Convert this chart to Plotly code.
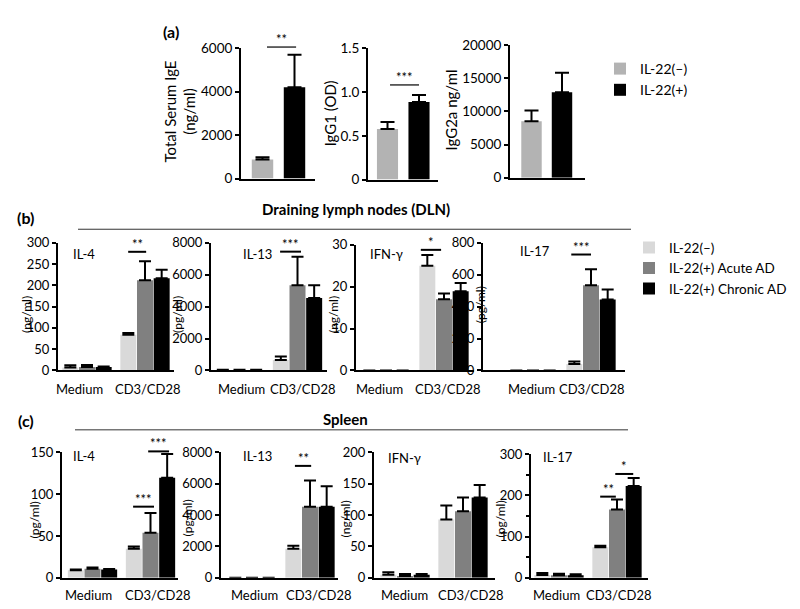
import plotly.graph_objects as go

W, H = 800, 609
FONT = "Lato, 'Open Sans', sans-serif"

# ---------------- Panel (a): serum immunoglobulins ----------------
a_groups = ['IL-22(–)', 'IL-22(+)']
ige_mean = [880, 4200]
ige_sem = [105, 1490]
igg1_mean = [0.578, 0.886]
igg1_sem = [0.078, 0.080]
igg2a_mean = [8500, 12900]
igg2a_sem = [1650, 2950]

# ---------------- Panels (b) DLN and (c) spleen ----------------
stim = ['Medium', 'CD3/CD28']
bc_groups = ['IL-22(–)', 'IL-22(+) Acute AD', 'IL-22(+) Chronic AD']

# each list: [IL-22(-), Acute, Chronic], each entry [Medium, CD3/CD28]
dln_il4_mean = [[7, 84], [8, 212], [8, 217]]
dln_il4_sem = [[5, 4], [5, 45], [1, 20]]
dln_il13_mean = [[30, 650], [30, 5350], [30, 4550]]
dln_il13_sem = [[15, 230], [15, 1780], [15, 800]]
dln_ifng_mean = [[0, 25.0], [0, 17.0], [0, 18.9]]
dln_ifng_sem = [[0, 2.6], [0, 1.4], [0, 2.0]]
dln_il17_mean = [[0, 40], [0, 535], [0, 445]]
dln_il17_sem = [[0, 16], [0, 100], [0, 62]]

spl_il4_mean = [[9, 34.6], [11, 53.8], [9.9, 119.6]]
spl_il4_sem = [[1, 2.7], [1.2, 23.5], [0.6, 28.2]]
spl_il13_mean = [[0, 1860], [0, 4530], [0, 4530]]
spl_il13_sem = [[0, 190], [0, 1670], [0, 1300]]
spl_ifng_mean = [[5, 93], [3, 106], [5, 128]]
spl_ifng_sem = [[4, 22], [3, 22], [1, 20]]
spl_il17_mean = [[7, 74], [6, 166], [6.5, 223]]
spl_il17_sem = [[5, 4], [4, 24], [2, 19]]

# significance marks: subplot, x from, x to (category units), y (data units), label
sig_marks = [
    ('a1', 0.14, 1.05, 6050, '**'),
    ('a2', 0.08, 1.00, 1.08, '***'),
    ('b1', 0.71, 1.02, 279, '**'),
    ('b2', 0.70, 1.06, 7450, '***'),
    ('b3', 0.60, 0.95, 28.8, '*'),
    ('b4', 0.66, 1.00, 727, '***'),
    ('c1', 0.70, 1.06, 85, '***'),
    ('c1', 0.96, 1.32, 151, '***'),
    ('c2', 0.74, 1.02, 7130, '**'),
    ('c4', 0.71, 0.98, 197, '**'),
    ('c4', 0.97, 1.28, 252, '*'),
]

A_COLORS = ['#b3b3b3', '#000000']
BC_COLORS = ['#d9d9d9', '#808080', '#000000']

# ---------------- layout geometry (pixels) ----------------
# key: left, right, top, bottom, centre of first category, category spacing
boxes = {
    'a1': (233, 307, 33, 167, 254.5, 32.0),
    'a2': (360, 430, 33, 168, 379.5, 31.5),
    'a3': (502, 577, 30, 166, 523.5, 30.5),
    'b1': (50, 166, 233, 364, 79, 58),
    'b2': (203, 319, 233, 364, 231.5, 58),
    'b3': (348, 466, 235, 364, 378, 58),
    'b4': (475, 617, 233, 364, 525, 58),
    'c1': (54, 170, 448, 577, 84.5, 58),
    'c2': (213, 330, 448, 577, 244, 58),
    'c3': (366, 487, 448, 577, 397, 58),
    'c4': (523, 640, 450, 577, 551, 58),
}
yaxes_cfg = {
    'a1': ([0, 6000], [0, 2000, 4000, 6000], ['0', '2000', '4000', '6000'], 13.5),
    'a2': ([0, 1.5], [0, 0.5, 1, 1.5], ['0', '0.5', '1.0', '1.5'], 13.5),
    'a3': ([0, 20000], [0, 5000, 10000, 15000, 20000], ['0', '5000', '10000', '15000', '20000'], 13.5),
    'b1': ([0, 300], [0, 50, 100, 150, 200, 250, 300], None, 13),
    'b2': ([0, 8000], [0, 2000, 4000, 6000, 8000], None, 13),
    'b3': ([0, 30], [0, 10, 20, 30], None, 13),
    'b4': ([0, 800], [0, 200, 400, 600, 800], None, 13),
    'c1': ([0, 150], [0, 50, 100, 150], None, 13),
    'c2': ([0, 8000], [0, 2000, 4000, 6000, 8000], None, 13),
    'c3': ([0, 200], [0, 50, 100, 150, 200], None, 13),
    'c4': ([0, 300], [0, 100, 200, 300], None, 13),
}
# pixel centres of the category labels (Medium, CD3/CD28) and their row
xlabel_pos = {
    'b1': (71, 139.5, 383), 'b2': (233, 295, 383), 'b3': (371, 440, 383), 'b4': (523.5, 583.5, 383),
    'c1': (80, 149.5, 595), 'c2': (246, 311, 595), 'c3': (396, 463, 595), 'c4': (548, 611, 595),
}
keys = list(boxes.keys())
axid = {k: ('' if i == 0 else str(i + 1)) for i, k in enumerate(keys)}


def px_x(x):
    return x / W


def px_y(y):
    return 1 - y / H


def ydata_to_paper(k, v):
    L, R, top, bot, c0, s = boxes[k]
    r0, r1 = yaxes_cfg[k][0]
    ypx = bot - (v - r0) / (r1 - r0) * (bot - top)
    return px_y(ypx)


fig = go.Figure()

# ---- panel (a) traces ----
a_sets = {'a1': (ige_mean, ige_sem), 'a2': (igg1_mean, igg1_sem), 'a3': (igg2a_mean, igg2a_sem)}
for k, (means, sems) in a_sets.items():
    for j, g in enumerate(a_groups):
        fig.add_trace(go.Bar(
            x=[g], y=[means[j]], name=g, marker=dict(color=A_COLORS[j], line=dict(width=0)),
            width=0.67, offsetgroup='a',
            error_y=dict(type='data', symmetric=False, array=[sems[j]], arrayminus=[0],
                         color='black', thickness=2, width=7),
            xaxis='x' + axid[k], yaxis='y' + axid[k],
            showlegend=(k == 'a1'), legend='legend',
        ))

# ---- panels (b),(c) traces ----
bc_sets = {
    'b1': (dln_il4_mean, dln_il4_sem), 'b2': (dln_il13_mean, dln_il13_sem),
    'b3': (dln_ifng_mean, dln_ifng_sem), 'b4': (dln_il17_mean, dln_il17_sem),
    'c1': (spl_il4_mean, spl_il4_sem), 'c2': (spl_il13_mean, spl_il13_sem),
    'c3': (spl_ifng_mean, spl_ifng_sem), 'c4': (spl_il17_mean, spl_il17_sem),
}
for k, (means, sems) in bc_sets.items():
    for j, g in enumerate(bc_groups):
        # no error bar where nothing was detected (mean and SEM both zero)
        err = [None if (m == 0 and e == 0) else e for m, e in zip(means[j], sems[j])]
        fig.add_trace(go.Bar(
            x=stim, y=means[j], name=g, marker=dict(color=BC_COLORS[j], line=dict(width=0)),
            error_y=dict(type='data', symmetric=False, array=err, arrayminus=[0, 0],
                         color='black', thickness=2, width=6),
            xaxis='x' + axid[k], yaxis='y' + axid[k],
            showlegend=(k == 'b1'), legend='legend2',
        ))

# ---- axes ----
lay = {}
for k in keys:
    L, R, top, bot, c0, s = boxes[k]
    yr, tv, tt, tfs = yaxes_cfg[k]
    xa = dict(domain=[px_x(L), px_x(R)], anchor='y' + axid[k], type='category',
              range=[(L - c0) / s, (R - c0) / s], showline=True, linecolor='black', linewidth=2,
              ticks='', showgrid=False, zeroline=False, fixedrange=True, showticklabels=False)
    if k.startswith('a'):
        xa.update(categoryorder='array', categoryarray=a_groups)
    else:
        xa.update(categoryorder='array', categoryarray=stim)
    ya = dict(domain=[px_y(bot), px_y(top)], anchor='x' + axid[k], range=yr, tickvals=tv,
              showline=True, linecolor='black', linewidth=2, ticks='outside', ticklen=4,
              tickwidth=1.5, tickcolor='black', showgrid=False, zeroline=False,
              tickfont=dict(size=tfs, color='black', family=FONT), fixedrange=True)
    if tt is not None:
        ya['ticktext'] = tt
    if k == 'c4':
        ya['minor'] = dict(dtick=50, ticks='outside', ticklen=3, tickwidth=1.5, tickcolor='black')
    lay['xaxis' + axid[k]] = xa
    lay['yaxis' + axid[k]] = ya

annotations = []
shapes = []


def add_text(text, x, y, size, bold=False, angle=0, xanchor='center', yanchor='middle'):
    annotations.append(dict(text=('<b>%s</b>' % text) if bold else text, x=px_x(x), y=px_y(y),
                            xref='paper', yref='paper', showarrow=False, textangle=angle,
                            xanchor=xanchor, yanchor=yanchor,
                            font=dict(size=size, color='black', family=FONT)))


# panel letters and headings
add_text('(a)', 163, 16, 16, bold=True)
add_text('(b)', 17, 207, 16, bold=True)
add_text('(c)', 18, 415, 16, bold=True)
add_text('Draining lymph nodes (DLN)', 348, 198, 15, bold=True)
add_text('Spleen', 337, 414, 15, bold=True)
shapes.append(dict(type='line', xref='paper', yref='paper', x0=px_x(70), x1=px_x(623),
                   y0=px_y(219), y1=px_y(219), line=dict(color='#333', width=1)))
shapes.append(dict(type='line', xref='paper', yref='paper', x0=px_x(67), x1=px_x(620),
                   y0=px_y(425), y1=px_y(425), line=dict(color='#333', width=1)))

# y-axis titles
add_text('Total Serum IgE<br>(ng/ml)', 172, 98, 15, angle=-90)
add_text('IgG1 (OD)', 322, 100, 15, angle=-90)
add_text('IgG2a ng/ml', 443, 97, 15, angle=-90)
for t, x, y in [('(pg/ml)', 19, 307), ('(pg/ml)', 170, 307), ('(ng/ml)', 326, 307), ('(pg/ml)', 472, 297),
                ('(pg/ml)', 26, 518), ('(pg/ml)', 179, 516), ('(ng/ml)', 337, 517), ('(pg/ml)', 492, 517)]:
    add_text(t, x, y, 12, angle=-90)

# cytokine names
for t, x, y in [('IL-4', 63, 244), ('IL-13', 233, 244), ('IFN-γ', 360, 244), ('IL-17', 510, 241),
                ('IL-4', 63, 452), ('IL-13', 233, 452), ('IFN-γ', 378, 454), ('IL-17', 533, 453)]:
    add_text(t, x, y, 13, xanchor='left')

# category labels under the bar groups
for k, (xm, xc, yl) in xlabel_pos.items():
    add_text(stim[0], xm, yl, 13)
    add_text(stim[1], xc, yl, 13)

# significance bars
for k, x0, x1, yv, lab in sig_marks:
    yp = ydata_to_paper(k, yv)
    shapes.append(dict(type='line', xref='x' + axid[k], yref='paper', x0=x0, x1=x1, y0=yp, y1=yp,
                       line=dict(color='black', width=2 if not k.startswith('a') else 1.2)))
    annotations.append(dict(text=lab, x=(x0 + x1) / 2, y=yp, xref='x' + axid[k], yref='paper',
                            showarrow=False, xanchor='center', yanchor='bottom', yshift=-2,
                            font=dict(size=13, color='black', family=FONT)))

lay.update(
    width=W, height=H, autosize=False, margin=dict(l=0, r=0, t=0, b=0),
    paper_bgcolor='white', plot_bgcolor='white',
    font=dict(family=FONT, color='black'),
    barmode='group', bargap=0.138, bargroupgap=0.04,
    legend=dict(x=px_x(592), y=px_y(38), xanchor='left', yanchor='top', font=dict(size=14),
                bgcolor='rgba(0,0,0,0)', borderwidth=0, tracegroupgap=0),
    legend2=dict(x=px_x(621), y=px_y(222), xanchor='left', yanchor='top', font=dict(size=13.5),
                 bgcolor='rgba(0,0,0,0)', borderwidth=0, tracegroupgap=0),
    annotations=annotations, shapes=shapes,
)
fig.update_layout(**lay)
fig.write_html('out.html')
